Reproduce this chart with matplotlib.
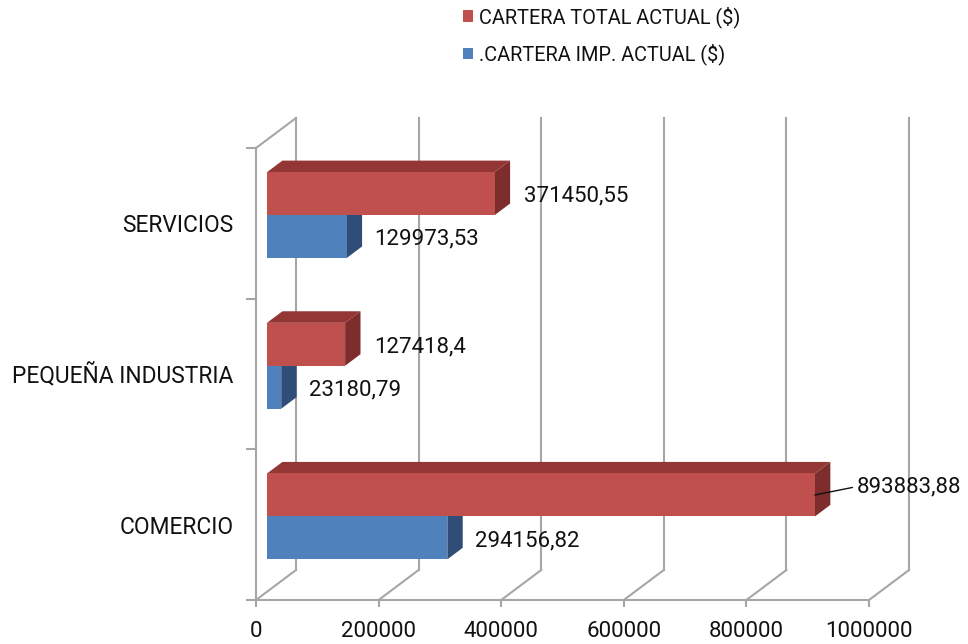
import matplotlib
matplotlib.use("Agg")
import matplotlib.pyplot as plt
from matplotlib.patches import Polygon
import numpy as np

plt.rcParams['font.family'] = ['Roboto', 'DejaVu Sans']

# --- data -------------------------------------------------------------
categories = ["COMERCIO", "PEQUEÑA INDUSTRIA", "SERVICIOS"]
cartera_total = [893883.88, 127418.4, 371450.55]
cartera_imp = [294156.82, 23180.79, 129973.53]
label_total = ["893883,88", "127418,4", "371450,55"]
label_imp = ["294156,82", "23180,79", "129973,53"]
series_names = ["CARTERA TOTAL ACTUAL ($)", ".CARTERA IMP. ACTUAL ($)"]
x_ticks = [0, 200000, 400000, 600000, 800000, 1000000]

# --- styling -----------------------------------------------------------
red_front, red_top, red_side = "#C0504D", "#943634", "#7D2E2C"
blue_front, blue_top, blue_side = "#4F81BD", "#3A6592", "#2F4D77"
grid_col = "#A6A6A6"

fig = plt.figure(figsize=(9.68, 6.44), dpi=100)
ax = fig.add_axes([256 / 968, 44 / 644, 613 / 968, 452 / 644])
ax.set_xlim(0, 1000000)
ax.set_ylim(-0.5, 2.5)

# pseudo-3D depth expressed in data units (full wall depth)
DX = 65250.0
DY = 0.199
d0, d1 = 0.275, 0.66      # front / back of the bars within the depth
bar_h = 0.285

ypos = np.arange(len(categories))

# walls and floor grid
for v in x_ticks:
    ax.plot([v + DX, v + DX], [-0.5 + DY, 2.5 + DY], color=grid_col, lw=1.5,
            clip_on=False, zorder=1)
    ax.plot([v, v + DX], [-0.5, -0.5 + DY], color=grid_col, lw=1.5,
            clip_on=False, zorder=1)
ax.plot([0, DX], [2.5, 2.5 + DY], color=grid_col, lw=1.5, clip_on=False, zorder=1)


def draw_bars(vals, y0s, front, top, side):
    bars = ax.barh(y0s + d0 * DY, vals, height=bar_h, left=d0 * DX,
                   align="edge", color=front, zorder=3, clip_on=False)
    for v, y0 in zip(vals, y0s):
        y1 = y0 + bar_h
        top_poly = [(d0 * DX, y1 + d0 * DY), (v + d0 * DX, y1 + d0 * DY),
                    (v + d1 * DX, y1 + d1 * DY), (d1 * DX, y1 + d1 * DY)]
        side_poly = [(v + d0 * DX, y0 + d0 * DY), (v + d1 * DX, y0 + d1 * DY),
                     (v + d1 * DX, y1 + d1 * DY), (v + d0 * DX, y1 + d0 * DY)]
        ax.add_patch(Polygon(top_poly, closed=True, facecolor=top,
                             edgecolor="none", zorder=2, clip_on=False))
        ax.add_patch(Polygon(side_poly, closed=True, facecolor=side,
                             edgecolor="none", zorder=2, clip_on=False))
    return bars


blue_bars = draw_bars(cartera_imp, ypos - bar_h, blue_front, blue_top, blue_side)
red_bars = draw_bars(cartera_total, ypos, red_front, red_top, red_side)

# value labels
lab_kw = dict(fontsize=16, color="#111111", va="center", ha="left",
              textcoords="offset points", zorder=5, annotation_clip=False)
for i, (v, t) in enumerate(zip(cartera_imp, label_imp)):
    yc = ypos[i] - bar_h / 2 + d0 * DY
    ax.annotate(t, (v + d0 * DX, yc), xytext=(20, -2), **lab_kw)
for i, (v, t) in enumerate(zip(cartera_total, label_total)):
    yc = ypos[i] + bar_h / 2 + d0 * DY
    if v == max(cartera_total):
        ax.annotate(t, (v + d0 * DX, yc), xytext=(30, 6),
                    arrowprops=dict(arrowstyle="-", color="#111111", lw=1,
                                    shrinkA=1, shrinkB=0, relpos=(0, 0.5)),
                    **lab_kw)
    else:
        ax.annotate(t, (v + d0 * DX, yc), xytext=(21, -2), **lab_kw)

# axes: spines, ticks, labels
for s in ["top", "right"]:
    ax.spines[s].set_visible(False)
for s in ["left", "bottom"]:
    ax.spines[s].set_color(grid_col)
    ax.spines[s].set_linewidth(1.5)
ax.set_xticks(x_ticks)
ax.set_xticklabels([str(t) for t in x_ticks], fontsize=16, color="#111111")
ax.tick_params(axis="x", direction="out", length=5, width=1.5, color=grid_col, pad=10)
ax.set_yticks([-0.5, 0.5, 1.5, 2.5])
ax.set_yticklabels([])
ax.tick_params(axis="y", direction="out", length=7, width=1.5, color=grid_col)
ax.set_yticks(ypos, minor=True)
ax.set_yticklabels(categories, minor=True, fontsize=16.4, color="#111111")
ax.tick_params(axis="y", which="minor", length=0, pad=16)

leg = fig.legend([red_bars, blue_bars], series_names, loc="upper left",
                 bbox_to_anchor=(463 / 968, 1 - 6 / 644), frameon=False,
                 fontsize=14.3, handlelength=0.52, handleheight=0.52,
                 handletextpad=0.27, labelspacing=0.8, borderpad=0,
                 borderaxespad=0)
for t in leg.get_texts():
    t.set_color("#111111")

fig.savefig("out.png", dpi=100)
